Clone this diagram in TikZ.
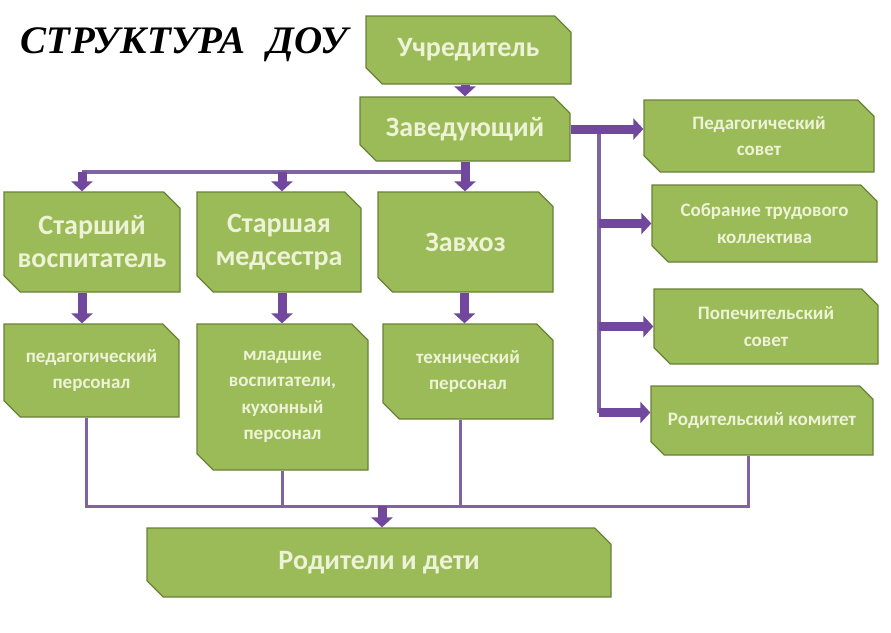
\documentclass[tikz,border=0pt]{standalone}
\usepackage{fontspec}
\setmainfont{Carlito}
\newfontfamily\headfont[LetterSpace=1]{Liberation Serif}
\usepackage{tikz}
\usetikzlibrary{shapes.misc, arrows.meta, positioning, calc}
\definecolor{boxfill}{RGB}{155,187,89}
\definecolor{boxedge}{RGB}{104,130,54}
\definecolor{boxtext}{RGB}{238,242,214}
\definecolor{arrpurple}{RGB}{113,72,158}
\definecolor{linepurple}{RGB}{128,100,162}
\tikzset{
  snipbox/.style={chamfered rectangle,
    chamfered rectangle corners={north east, south west},
    chamfered rectangle xsep=13pt, inner xsep=0pt, inner ysep=2pt,
    draw=boxedge, fill=boxfill, line width=1.3pt,
    text=boxtext, align=center},
  bigbox/.style={snipbox, font=\fontsize{28}{33}\selectfont\bfseries},
  smallbox/.style={snipbox, font=\fontsize{19}{26.5}\selectfont\bfseries},
  fatarrow/.style={draw=arrpurple, line width=9pt,
    -{Triangle[width=21pt,length=10pt]}},
  busline/.style={draw=linepurple, line width=4pt},
  thinline/.style={draw=linepurple, line width=3pt}
}

\begin{document}
\begin{tikzpicture}[x=1pt, y=-1pt]
  \useasboundingbox (0,0) rectangle (891,632);

  % Title
  \node[font=\headfont\fontsize{39}{42}\selectfont\bfseries\itshape] (title) at (184,45) {СТРУКТУРА\hspace{0.55em}ДОУ};

  % Top: founder and head
  \node[bigbox, minimum width=205pt, minimum height=68pt] (uchr) at (468.5,50) {Учредитель};
  \node[bigbox, minimum width=210pt, minimum height=64pt] (zav) at (465,129) {Заведующий};

  % Row 2: deputies
  \node[bigbox, minimum width=176pt, minimum height=100pt] (svosp) at (92,242) {Старший\\воспитатель};
  \node[bigbox, minimum width=164pt, minimum height=100pt] (smed) at (279,242) {Старшая\\медсестра};
  \node[bigbox, minimum width=175pt, minimum height=100pt] (zavhoz) at (465.5,242) {Завхоз};

  % Row 3: staff
  \node[smallbox, minimum width=175pt, minimum height=93pt] (pedpers) at (91.5,370.5) {педагогический\\персонал};
  \node[smallbox, minimum width=171pt, minimum height=146pt] (mlvosp) at (282.5,397) {младшие\\воспитатели,\\кухонный\\персонал};
  \node[smallbox, minimum width=170pt, minimum height=95pt] (tehpers) at (468,371.5) {технический\\персонал};

  % Right column: councils
  \node[smallbox, minimum width=230pt, minimum height=72pt] (pedsov) at (759,136) {Педагогический\\совет};
  \node[smallbox, minimum width=225pt, minimum height=77pt] (sobr) at (764.5,223.5) {Собрание трудового\\коллектива};
  \node[smallbox, minimum width=224pt, minimum height=75pt] (popech) at (766,326.5) {Попечительский\\совет};
  \node[smallbox, minimum width=222pt, minimum height=69pt] (rodkom) at (762,420.5) {Родительский комитет};

  % Bottom
  \node[bigbox, minimum width=464pt, minimum height=69pt] (roditeli) at (379,562.5) {Родители и дети};

  % Arrows from the head
  \draw[fatarrow] (zav.north |- uchr.south) -- (zav.north);
  \coordinate (topbus) at (465,172);
  \draw[busline] ([xshift=-10pt]svosp.north |- topbus) -- (topbus);
  \draw[fatarrow] (zav.south) -- (zav.south |- zavhoz.north);
  \draw[fatarrow] ([xshift=-10pt]svosp.north |- topbus) -- ([xshift=-10pt]svosp.north);
  \draw[fatarrow] ([xshift=3pt]smed.north |- topbus) -- ([xshift=3pt]smed.north);

  % Deputies to staff
  \draw[fatarrow] ([xshift=-10pt]svosp.south) -- ([xshift=-10pt]svosp.south |- pedpers.north);
  \draw[fatarrow] ([xshift=3pt]smed.south) -- ([xshift=3pt]smed.south |- mlvosp.north);
  \draw[fatarrow] ([xshift=-1pt]zavhoz.south) -- ([xshift=-1pt]zavhoz.south |- tehpers.north);

  % Right column
  \coordinate (rbus) at ([xshift=28pt]zav.east);
  \coordinate (rkin) at ([yshift=8pt]rodkom.west);
  \draw[busline] (rbus) -- (rbus |- rkin);
  \draw[fatarrow] (zav.east) -- (zav.east -| pedsov.west);
  \draw[fatarrow] (rbus |- sobr.west) -- (sobr.west);
  \draw[fatarrow] (rbus |- popech.west) -- (popech.west);
  \draw[fatarrow] (rbus |- rkin) -- (rkin);

  % Bottom bus
  \coordinate (botbus) at (382,506);
  \coordinate (rkout) at ([xshift=-14pt]rodkom.south);
  \draw[thinline] ([xshift=-5pt]pedpers.south) |- (rkout |- botbus) -- (rkout);
  \draw[thinline] (mlvosp.south) -- (mlvosp.south |- botbus);
  \draw[thinline] ([xshift=-8pt]tehpers.south) -- ([xshift=-8pt]tehpers.south |- botbus);
  \draw[fatarrow] (botbus) -- (botbus |- roditeli.north);
\end{tikzpicture}
\end{document}
